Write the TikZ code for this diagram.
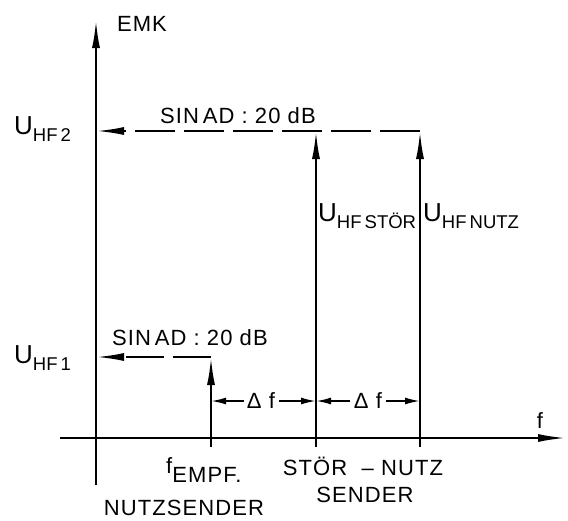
\documentclass[tikz,border=0pt]{standalone}
\usepackage{fontspec}
\setmainfont{Liberation Sans}[LetterSpace=5]
\usetikzlibrary{arrows.meta}
\newcommand{\Uhf}[1]{{\fontsize{26}{28}\selectfont U}\raisebox{-7pt}{\fontsize{18.5}{22}\selectfont\addfontfeature{LetterSpace=0}HF\,#1}}
\begin{document}
\begin{tikzpicture}[x=1pt,y=-1pt,
  axis/.style={line width=2.2pt},
  bigarrow/.style={-{Latex[length=28pt,width=8pt]}},
  smallarrow/.style={-{Latex[length=15pt,width=7pt]}},
  dashline/.style={line width=2.2pt, dash pattern=on 40pt off 9pt},
  lbl/.style={inner sep=0pt, font=\fontsize{22}{24}\selectfont},
]
\useasboundingbox (0,0) rectangle (568,520);
% axes
\coordinate (ytop) at (96,20);
\coordinate (ybot) at (96,485);
\coordinate (xleft) at (60,438);
\coordinate (xright) at (566,438);
\draw[axis,bigarrow] (ybot) -- (ytop);
\draw[axis,bigarrow] (xleft) -- (xright);
% key points
\coordinate (a2) at (96,131);
\coordinate (a1) at (96,357);
\coordinate (eb) at (211,447);
\coordinate (et) at (211,357);
\coordinate (sb) at (316,447);
\coordinate (st) at (316,131);
\coordinate (nb) at (420,447);
\coordinate (nt) at (420,131);
% verticals
\draw[axis,bigarrow] (eb) -- (et);
\draw[axis,bigarrow] (sb) -- (st);
\draw[axis,bigarrow] (nb) -- (nt);
% dashed levels
\draw[dashline,bigarrow] (nt) -- (a2);
\draw[dashline,bigarrow,dash pattern=on 38pt off 9pt] (et) -- (a1);
% delta f
\node[lbl] (d1) at (261,401) {Δ f};
\node[lbl] (d2) at (368,401) {Δ f};
\draw[line width=1.8pt,smallarrow] (d1.west) ++(-3,0) -- (211,401);
\draw[line width=1.8pt,smallarrow] (d1.east) ++(4,0) -- (316,401);
\draw[line width=1.8pt,smallarrow] (d2.west) ++(-4,0) -- (316,401);
\draw[line width=1.8pt,smallarrow] (d2.east) ++(4,0) -- (420,401);
% labels
\node[lbl] (emk) at (142,24) {EMK};
\node[lbl] (fx) at (540,421) {f};
\node[lbl] (sin2) at (238,116) {SIN\,AD : 20 dB};
\node[lbl] (sin1) at (190,338) {SIN\,AD : 20 dB};
\node[lbl,anchor=west] (u2) at (14,129) {\Uhf{2}};
\node[lbl,anchor=west] (u1) at (14,358) {\Uhf{1}};
\node[lbl,anchor=west] (us) at (318,216) {\Uhf{STÖR}};
\node[lbl,anchor=west] (un) at (423,216) {\Uhf{NUTZ}};
\node[lbl,anchor=west] (fe) at (166,470) {f\raisebox{-9pt}{EMPF.}};
\node[lbl] (ns) at (184,508) {NUTZSENDER};
\node[lbl] (sn) at (363,466) {STÖR \ – NUTZ};
\node[lbl] (se) at (365,495) {SENDER};
\end{tikzpicture}
\end{document}
